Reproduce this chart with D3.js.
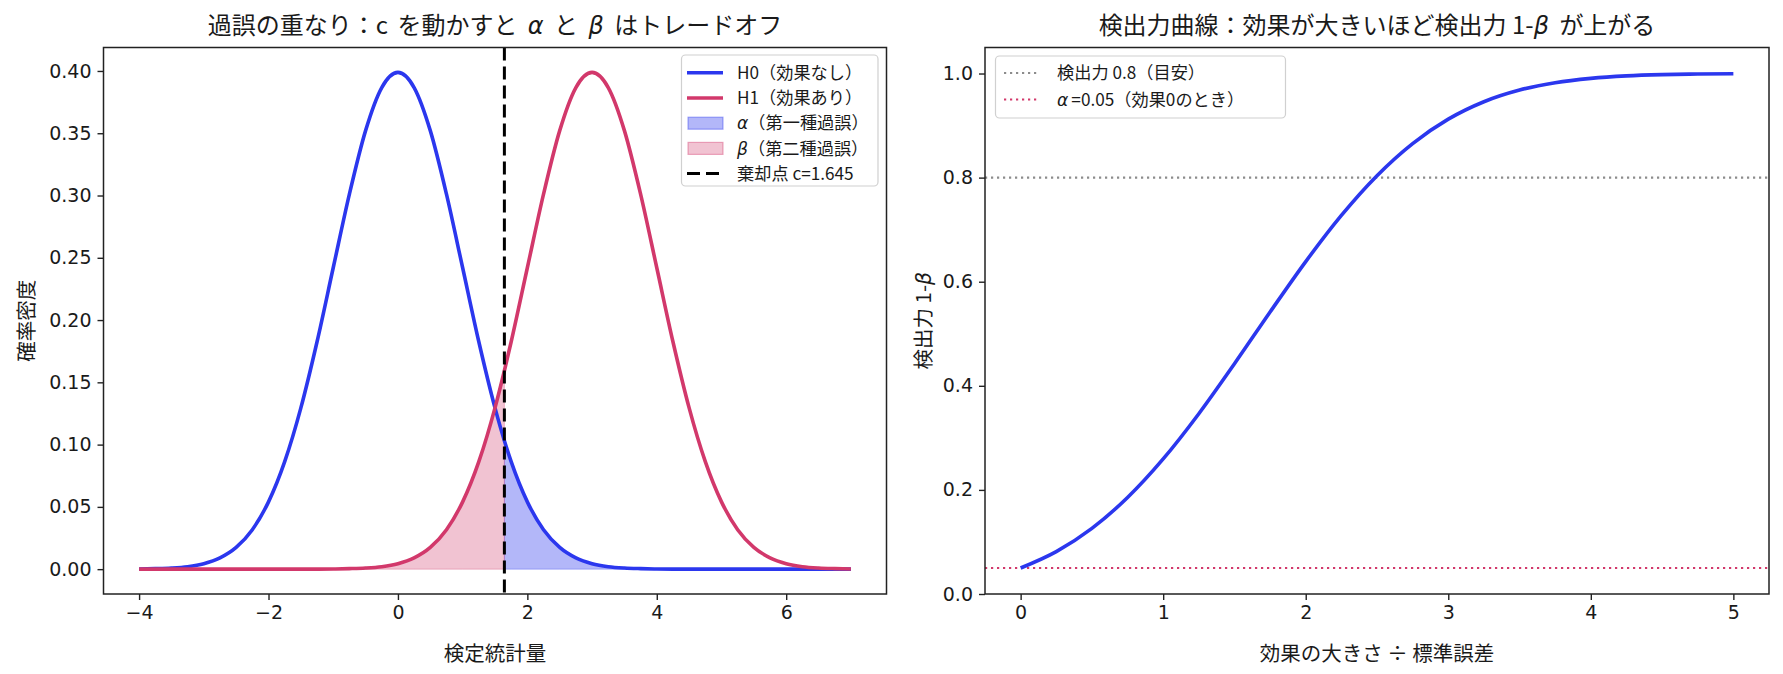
<!DOCTYPE html>
<html><head><meta charset="utf-8">
<script src="https://cdn.jsdelivr.net/npm/d3@7"></script>
<style>
body{margin:0;background:#fff}
svg{display:block}
text{font-family:"Noto Sans CJK JP","Noto Sans",sans-serif;fill:#1a1a1a}
.m{font-family:"DejaVu Sans",sans-serif;font-style:italic}
</style>
</head><body>
<svg id="c" width="1783" height="674"></svg>
<script>
// ---------- data ----------
const xs = [-4,-3.75,-3.5,-3.25,-3,-2.75,-2.5,-2.25,-2,-1.75,-1.5,-1.25,-1,-0.75,-0.5,-0.25,0,0.25,0.5,0.75,1,1.25,1.5,1.75,2,2.25,2.5,2.75,3,3.25,3.5,3.75,4,4.25,4.5,4.75,5,5.25,5.5,5.75,6,6.25,6.5,6.75,7];
const h0 = [0.0001,0.0004,0.0009,0.0020,0.0044,0.0091,0.0175,0.0317,0.0540,0.0863,0.1295,0.1826,0.2420,0.3011,0.3521,0.3867,0.3989,0.3867,0.3521,0.3011,0.2420,0.1826,0.1295,0.0863,0.0540,0.0317,0.0175,0.0091,0.0044,0.0020,0.0009,0.0004,0.0001,0,0,0,0,0,0,0,0,0,0,0,0];
const h1 = [0,0,0,0,0,0,0,0,0,0,0,0,0.0001,0.0004,0.0009,0.0020,0.0044,0.0091,0.0175,0.0317,0.0540,0.0863,0.1295,0.1826,0.2420,0.3011,0.3521,0.3867,0.3989,0.3867,0.3521,0.3011,0.2420,0.1826,0.1295,0.0863,0.0540,0.0317,0.0175,0.0091,0.0044,0.0020,0.0009,0.0004,0.0001];
const cutoff = 1.645;
const h0AtCut = 0.1031;
const h1AtCut = 0.1593;

const effect = [0,0.25,0.5,0.75,1,1.25,1.5,1.75,2,2.25,2.5,2.75,3,3.25,3.5,3.75,4,4.25,4.5,4.75,5];
const power = [0.05,0.0815,0.1261,0.1854,0.2595,0.3464,0.4424,0.5418,0.6387,0.7274,0.8037,0.8654,0.9123,0.9458,0.9682,0.9824,0.9907,0.9954,0.9978,0.9990,0.9996];
const targetPower = 0.8;
const alphaLevel = 0.05;

const leftTicksX = [-4,-2,0,2,4,6];
const leftTicksY = [0,0.05,0.10,0.15,0.20,0.25,0.30,0.35,0.40];
const rightTicksX = [0,1,2,3,4,5];
const rightTicksY = [0,0.2,0.4,0.6,0.8,1.0];

// ---------- styles ----------
const BLUE = "#2b37ee", PINK = "#d2386b", AX = "#222";
const FS_TICK = 19, FS_LAB = 20.5, FS_TITLE = 24, FS_LEG = 17.2;

const svg = d3.select("#c");

function axesFrame(g, x, y, tx, ty, fmtX, fmtY) {
  const [x0,x1] = x.range(), [y1,y0] = y.range();
  const xa = g.append("g").attr("transform",`translate(0,${y1})`)
    .call(d3.axisBottom(x).tickValues(tx).tickFormat(fmtX).tickSize(6).tickPadding(6));
  const ya = g.append("g").attr("transform",`translate(${x0},0)`)
    .call(d3.axisLeft(y).tickValues(ty).tickFormat(fmtY).tickSize(6).tickPadding(6));
  [xa,ya].forEach(a=>{
    a.select(".domain").remove();
    a.selectAll("line").attr("stroke",AX).attr("stroke-width",1.4);
    a.selectAll("text").attr("font-size",FS_TICK).attr("fill","#1a1a1a")
      .style("font-family","'DejaVu Sans',sans-serif");
  });
  g.append("rect").attr("x",x0).attr("y",y0).attr("width",x1-x0).attr("height",y1-y0)
    .attr("fill","none").attr("stroke",AX).attr("stroke-width",1.5);
}

// ================= LEFT =================
{
  const L = {x0:103.5,x1:886.5,y0:47.5,y1:594};
  const x = d3.scaleLinear().domain([-4.55,7.55]).range([L.x0,L.x1]);
  const y = d3.scaleLinear().domain([-0.01995,0.41884]).range([L.y1,L.y0]);
  const g = svg.append("g");
  g.append("clipPath").attr("id","cl").append("rect")
    .attr("x",L.x0).attr("y",L.y0).attr("width",L.x1-L.x0).attr("height",L.y1-L.y0);

  const pts0 = xs.map((v,i)=>({x:v,y:h0[i]}));
  const pts1 = xs.map((v,i)=>({x:v,y:h1[i]}));
  const ins = (arr,val)=>{const a=arr.slice(); const k=a.findIndex(p=>p.x>cutoff); a.splice(k,0,{x:cutoff,y:val}); return a;};
  const l0 = ins(pts0,h0AtCut), l1 = ins(pts1,h1AtCut);
  const alphaPts = l0.filter(p=>p.x>=cutoff);
  const betaPts = l1.filter(p=>p.x<=cutoff);

  const area = d3.area().x(d=>x(d.x)).y0(y(0)).y1(d=>y(d.y)).curve(d3.curveMonotoneX);
  const line = d3.line().x(d=>x(d.x)).y(d=>y(d.y)).curve(d3.curveMonotoneX);

  const pg = g.append("g").attr("clip-path","url(#cl)");
  pg.append("path").attr("d",area(alphaPts)).attr("fill",BLUE).attr("fill-opacity",0.36)
    .attr("stroke",BLUE).attr("stroke-opacity",0.3).attr("stroke-width",1);
  pg.append("path").attr("d",area(betaPts)).attr("fill",PINK).attr("fill-opacity",0.3)
    .attr("stroke",PINK).attr("stroke-opacity",0.3).attr("stroke-width",1);
  pg.append("path").attr("d",line(l0)).attr("fill","none").attr("stroke",BLUE).attr("stroke-width",3.6);
  pg.append("path").attr("d",line(l1)).attr("fill","none").attr("stroke",PINK).attr("stroke-width",3.6);
  pg.append("line").attr("x1",x(cutoff)).attr("x2",x(cutoff)).attr("y1",L.y0).attr("y2",L.y1)
    .attr("stroke","#000").attr("stroke-width",3).attr("stroke-dasharray","13,6");

  axesFrame(g,x,y,leftTicksX,leftTicksY,d3.format("d"),d3.format(".2f"));

  g.append("text").attr("x",(L.x0+L.x1)/2).attr("y",34).attr("text-anchor","middle").attr("font-size",FS_TITLE)
    .html('過誤の重なり：c<tspan dx="4"> </tspan>を動かすと<tspan dx="5"> </tspan><tspan class="m">α</tspan><tspan dx="5"> </tspan>と<tspan dx="5"> </tspan><tspan class="m">β</tspan><tspan dx="5"> </tspan>はトレードオフ');
  g.append("text").attr("x",(L.x0+L.x1)/2).attr("y",661).attr("text-anchor","middle").attr("font-size",FS_LAB).text("検定統計量");
  g.append("text").attr("transform",`translate(34,${(L.y0+L.y1)/2}) rotate(-90)`).attr("text-anchor","middle")
    .attr("font-size",FS_LAB).text("確率密度");

  const lg = g.append("g");
  lg.append("rect").attr("x",681.5).attr("y",55).attr("width",196.5).attr("height",131).attr("rx",4)
    .attr("fill","#fff").attr("fill-opacity",0.8).attr("stroke","#d0d0d0").attr("stroke-width",1.2);
  const items = [
    {t:'H0（効果なし）',k:'line',c:BLUE},
    {t:'H1（効果あり）',k:'line',c:PINK},
    {t:'<tspan class="m">α</tspan>（第一種過誤）',k:'patch',c:BLUE,o:0.36},
    {t:'<tspan class="m">β</tspan>（第二種過誤）',k:'patch',c:PINK,o:0.3},
    {t:'棄却点 c=1.645',k:'dash',c:'#000'}
  ];
  items.forEach((it,i)=>{
    const cy = 72.8 + i*25.2;
    if(it.k==='line') lg.append("line").attr("x1",687).attr("x2",723).attr("y1",cy).attr("y2",cy).attr("stroke",it.c).attr("stroke-width",3.6);
    else if(it.k==='patch') lg.append("rect").attr("x",688).attr("y",cy-6).attr("width",35).attr("height",12)
      .attr("fill",it.c).attr("fill-opacity",it.o).attr("stroke",it.c).attr("stroke-opacity",0.4).attr("stroke-width",1.2);
    else lg.append("line").attr("x1",687).attr("x2",723).attr("y1",cy).attr("y2",cy).attr("stroke",it.c).attr("stroke-width",3).attr("stroke-dasharray","13,6");
    lg.append("text").attr("x",737).attr("y",cy).attr("dy","0.36em").attr("font-size",FS_LEG).html(it.t);
  });
}

// ================= RIGHT =================
{
  const R = {x0:985,x1:1769,y0:47.5,y1:594};
  const x = d3.scaleLinear().domain([-0.25,5.25]).range([R.x0,R.x1]);
  const y = d3.scaleLinear().domain([0,1.05]).range([R.y1,R.y0]);
  const g = svg.append("g");
  const line = d3.line().x((d,i)=>x(effect[i])).y(d=>y(d)).curve(d3.curveMonotoneX);

  g.append("line").attr("x1",R.x0).attr("x2",R.x1).attr("y1",y(targetPower)).attr("y2",y(targetPower))
    .attr("stroke","#8c8c8c").attr("stroke-width",2.2).attr("stroke-dasharray","2.2,3.8");
  g.append("line").attr("x1",R.x0).attr("x2",R.x1).attr("y1",y(alphaLevel)).attr("y2",y(alphaLevel))
    .attr("stroke",PINK).attr("stroke-width",2.2).attr("stroke-dasharray","2.2,3.8");
  g.append("path").attr("d",line(power)).attr("fill","none").attr("stroke",BLUE).attr("stroke-width",3.6);

  axesFrame(g,x,y,rightTicksX,rightTicksY,d3.format("d"),d3.format(".1f"));

  g.append("text").attr("x",(R.x0+R.x1)/2).attr("y",34).attr("text-anchor","middle").attr("font-size",FS_TITLE)
    .html('検出力曲線：効果が大きいほど検出力 1-<tspan class="m">β</tspan><tspan dx="5"> </tspan>が上がる');
  g.append("text").attr("x",(R.x0+R.x1)/2).attr("y",661).attr("text-anchor","middle").attr("font-size",FS_LAB).text("効果の大きさ ÷ 標準誤差");
  g.append("text").attr("transform",`translate(931,${(R.y0+R.y1)/2}) rotate(-90)`).attr("text-anchor","middle")
    .attr("font-size",FS_LAB).html('検出力 1-<tspan class="m">β</tspan>');

  const lg = g.append("g");
  lg.append("rect").attr("x",995.5).attr("y",56).attr("width",290).attr("height",62).attr("rx",4)
    .attr("fill","#fff").attr("fill-opacity",0.8).attr("stroke","#d0d0d0").attr("stroke-width",1.2);
  const items = [
    {t:'検出力 0.8（目安）',c:'#8c8c8c'},
    {t:'<tspan class="m">α</tspan><tspan dx="3">=0.05（効果0のとき）</tspan>',c:PINK}
  ];
  items.forEach((it,i)=>{
    const cy = 73 + i*26.5;
    lg.append("line").attr("x1",1004).attr("x2",1040).attr("y1",cy).attr("y2",cy).attr("stroke",it.c)
      .attr("stroke-width",2.2).attr("stroke-dasharray","2.2,3.8");
    lg.append("text").attr("x",1057).attr("y",cy).attr("dy","0.36em").attr("font-size",FS_LEG).html(it.t);
  });
}
</script>
</body></html>
